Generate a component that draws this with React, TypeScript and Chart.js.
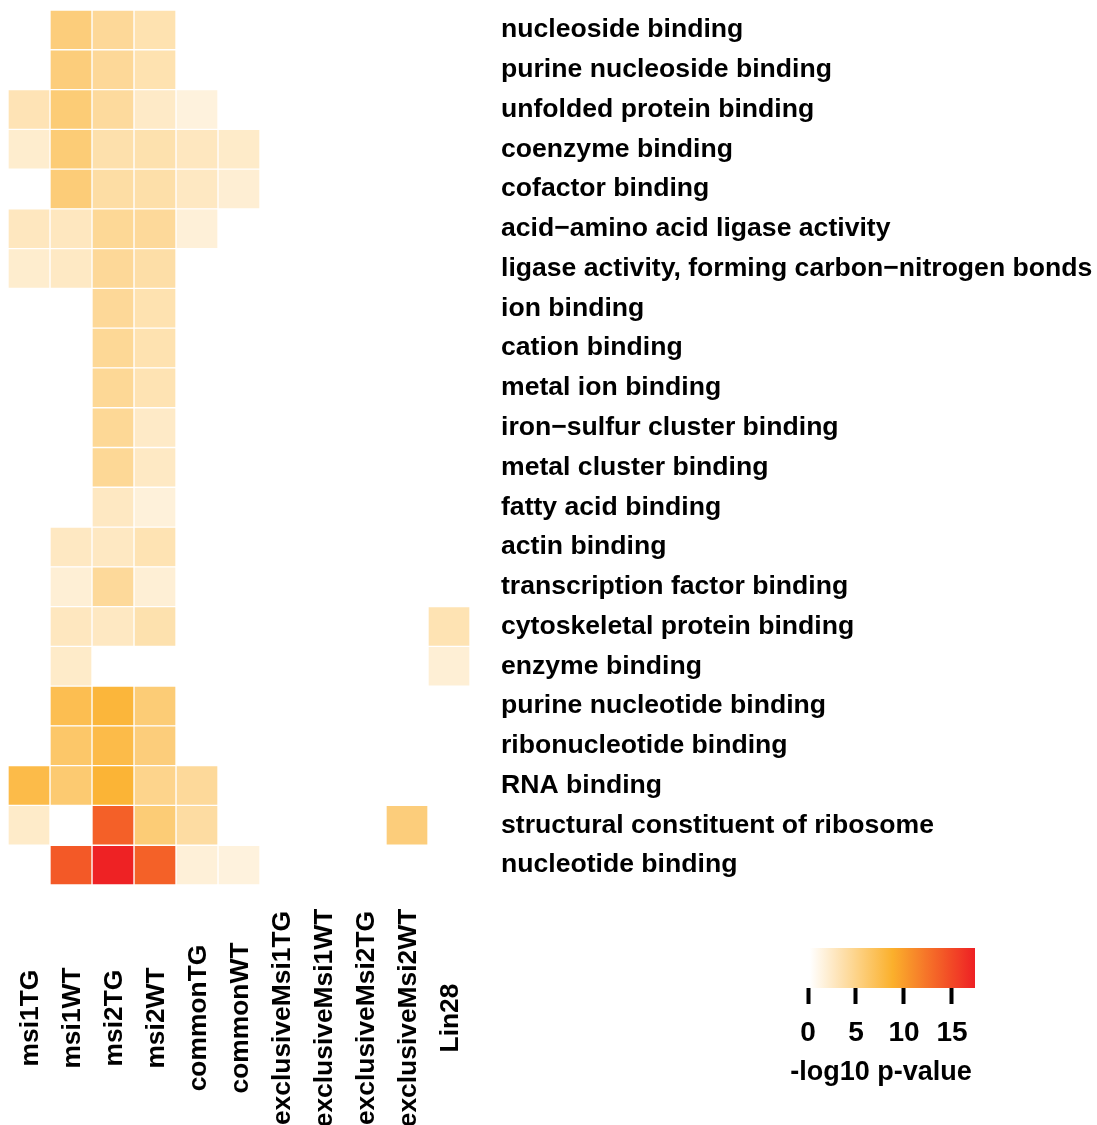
import React, { useEffect, useRef } from "react";
import { Chart, registerables } from "chart.js";

Chart.register(...registerables);

const columns = [
  "msi1TG", "msi1WT", "msi2TG", "msi2WT", "commonTG", "commonWT",
  "exclusiveMsi1TG", "exclusiveMsi1WT", "exclusiveMsi2TG", "exclusiveMsi2WT", "Lin28",
];

const terms = [
  "nucleoside binding",
  "purine nucleoside binding",
  "unfolded protein binding",
  "coenzyme binding",
  "cofactor binding",
  "acid\u2212amino acid ligase activity",
  "ligase activity, forming carbon\u2212nitrogen bonds",
  "ion binding",
  "cation binding",
  "metal ion binding",
  "iron\u2212sulfur cluster binding",
  "metal cluster binding",
  "fatty acid binding",
  "actin binding",
  "transcription factor binding",
  "cytoskeletal protein binding",
  "enzyme binding",
  "purine nucleotide binding",
  "ribonucleotide binding",
  "RNA binding",
  "structural constituent of ribosome",
  "nucleotide binding",
];

// -log10 p-values per column, one entry per term (null = not significant)
const msi1TG = [null, null, 3.2, 2.2, null, 2.8, 2.2, null, null, null, null, null, null, null, null, null, null, null, null, 7.6, 2.4, null];
const msi1WT = [5.6, 5.6, 5.8, 5.8, 5.7, 2.8, 2.6, null, null, null, null, null, null, 2.7, 1.9, 2.8, 2.4, 7.3, 6.3, 6.0, null, 14.0];
const msi2TG = [4.4, 4.4, 4.2, 3.6, 3.9, 4.5, 4.4, 4.4, 4.5, 4.5, 4.5, 4.5, 2.7, 2.7, 4.3, 2.7, null, 8.2, 7.6, 8.4, 13.6, 17.3];
const msi2WT = [3.4, 3.4, 2.5, 3.5, 3.7, 4.3, 3.8, 3.4, 3.4, 3.3, 2.5, 2.6, 1.7, 3.3, 1.9, 3.5, null, 5.8, 5.6, 4.9, 5.8, 13.5];
const commonTG = [null, null, 1.6, 2.8, 2.7, 1.8, null, null, null, null, null, null, null, null, null, null, null, null, null, 4.3, 4.0, 1.8];
const commonWT = [null, null, null, 2.4, 2.0, null, null, null, null, null, null, null, null, null, null, null, null, null, null, null, null, 1.6];
const exclusiveMsi1TG = [null, null, null, null, null, null, null, null, null, null, null, null, null, null, null, null, null, null, null, null, null, null];
const exclusiveMsi1WT = [null, null, null, null, null, null, null, null, null, null, null, null, null, null, null, null, null, null, null, null, null, null];
const exclusiveMsi2TG = [null, null, null, null, null, null, null, null, null, null, null, null, null, null, null, null, null, null, null, null, null, null];
const exclusiveMsi2WT = [null, null, null, null, null, null, null, null, null, null, null, null, null, null, null, null, null, null, null, null, 5.6, null];
const Lin28 = [null, null, null, null, null, null, null, null, null, null, null, null, null, null, null, 3.3, 1.9, null, null, null, null, null];

const columnValues: (number | null)[][] = [
  msi1TG, msi1WT, msi2TG, msi2WT, commonTG, commonWT,
  exclusiveMsi1TG, exclusiveMsi1WT, exclusiveMsi2TG, exclusiveMsi2WT, Lin28,
];

const legendTicks = [0, 5, 10, 15];
const legendMin = 0.2;
const legendMax = 17.4;

const LOW = [255, 255, 255];
const MID = [251, 176, 44];
const HIGH = [238, 32, 36];

function colorFor(v: number): string {
  let t = (v - legendMin) / (legendMax - legendMin);
  t = Math.max(0, Math.min(1, t));
  let a: number[], b: number[], f: number;
  if (t < 0.5) { a = LOW; b = MID; f = t / 0.5; } else { a = MID; b = HIGH; f = (t - 0.5) / 0.5; }
  const c = a.map((x, i) => Math.round(x + (b[i] - x) * f));
  return `rgb(${c[0]},${c[1]},${c[2]})`;
}

const FONT = '"Liberation Sans", Arial, Helvetica, sans-serif';

export default function App() {
  const mainRef = useRef<HTMLCanvasElement | null>(null);
  const legRef = useRef<HTMLCanvasElement | null>(null);

  useEffect(() => {
    if (!mainRef.current || !legRef.current) return;

    const xLabelPlugin = {
      id: "xLabels",
      afterDraw(chart: any) {
        const ctx = chart.ctx;
        const xs = chart.scales.x;
        const yCenter = chart.chartArea.bottom + 133;
        ctx.save();
        ctx.font = `bold 26.4px ${FONT}`;
        ctx.fillStyle = "#000";
        ctx.textAlign = "center";
        ctx.textBaseline = "alphabetic";
        columns.forEach((c, j) => {
          const x = xs.getPixelForValue(j + 0.5);
          ctx.save();
          ctx.translate(x + 9, yCenter);
          ctx.rotate(-Math.PI / 2);
          ctx.fillText(c, 0, 0);
          ctx.restore();
        });
        ctx.restore();
      },
    };

    const main = new Chart(mainRef.current, {
      type: "bar",
      data: {
        labels: terms,
        datasets: columns.map((c, j) => ({
          label: c,
          data: columnValues[j].map((v) => (v == null ? null : [j, j + 1])) as any,
          backgroundColor: (ctx: any) => {
            const v = columnValues[j][ctx.dataIndex];
            return v == null ? "rgba(0,0,0,0)" : colorFor(v);
          },
          borderColor: "#ffffff",
          borderWidth: 1,
          borderSkipped: false,
          barPercentage: 1,
          categoryPercentage: 1,
          grouped: false,
        })),
      },
      options: {
        indexAxis: "y",
        animation: false,
        responsive: false,
        maintainAspectRatio: false,
        layout: { padding: { left: 8, top: 10, bottom: 240, right: 0 } },
        plugins: { legend: { display: false }, tooltip: { enabled: false } },
        scales: {
          x: { type: "linear", min: 0, max: 11, display: false },
          y: {
            type: "category",
            position: "right",
            grid: { display: false, drawTicks: false },
            border: { display: false },
            ticks: {
              padding: 31,
              color: "#000",
              font: { family: FONT, weight: "bold", size: 26.6 },
            },
            afterFit: (s: any) => { s.width = 627; s.paddingTop = 0; s.paddingBottom = 0; },
          },
        },
      } as any,
      plugins: [xLabelPlugin],
    });

    const titlePlugin = {
      id: "legTitle",
      afterDraw(chart: any) {
        const ctx = chart.ctx;
        ctx.save();
        ctx.font = `bold 27px ${FONT}`;
        ctx.fillStyle = "#000";
        ctx.textAlign = "center";
        ctx.textBaseline = "middle";
        ctx.fillText("-log10 p-value", 101, 143);
        ctx.restore();
      },
    };

    const legend = new Chart(legRef.current, {
      type: "bar",
      data: {
        labels: ["scale"],
        datasets: [{
          data: [[legendMin, legendMax]] as any,
          backgroundColor: (ctx: any) => {
            const chart = ctx.chart;
            if (!chart.chartArea) return "rgba(0,0,0,0)";
            const xs = chart.scales.x;
            const x0 = xs.getPixelForValue(legendMin);
            const x1 = xs.getPixelForValue(legendMax);
            const g = chart.ctx.createLinearGradient(x0, 0, x1, 0);
            for (let i = 0; i <= 20; i++) {
              const v = legendMin + ((legendMax - legendMin) * i) / 20;
              g.addColorStop(i / 20, colorFor(v));
            }
            return g;
          },
          borderWidth: 0,
          barPercentage: 1,
          categoryPercentage: 1,
        }],
      },
      options: {
        indexAxis: "y",
        animation: false,
        responsive: false,
        maintainAspectRatio: false,
        layout: { padding: { left: 28, top: 18, right: 25, bottom: 0 } },
        plugins: { legend: { display: false }, tooltip: { enabled: false } },
        scales: {
          x: {
            type: "linear",
            min: 0,
            max: legendMax,
            position: "bottom",
            afterBuildTicks: (s: any) => { s.ticks = legendTicks.map((v) => ({ value: v })); },
            grid: { drawOnChartArea: false, drawTicks: true, tickLength: 16, tickWidth: 4, tickColor: "#000" },
            border: { display: false },
            ticks: { color: "#000", padding: 12, font: { family: FONT, weight: "bold", size: 28 } },
            afterFit: (s: any) => { s.height = 112; },
          },
          y: { type: "category", display: false },
        },
      } as any,
      plugins: [titlePlugin],
    });

    return () => { main.destroy(); legend.destroy(); };
  }, []);

  return (
    <div style={{ position: "fixed", left: 0, top: 0, width: 1097, height: 1125, background: "#fff" }}>
      <canvas ref={mainRef} width={1097} height={1125} style={{ position: "absolute", left: 0, top: 0, width: 1097, height: 1125 }} />
      <canvas ref={legRef} width={220} height={170} style={{ position: "absolute", left: 780, top: 930, width: 220, height: 170 }} />
    </div>
  );
}
